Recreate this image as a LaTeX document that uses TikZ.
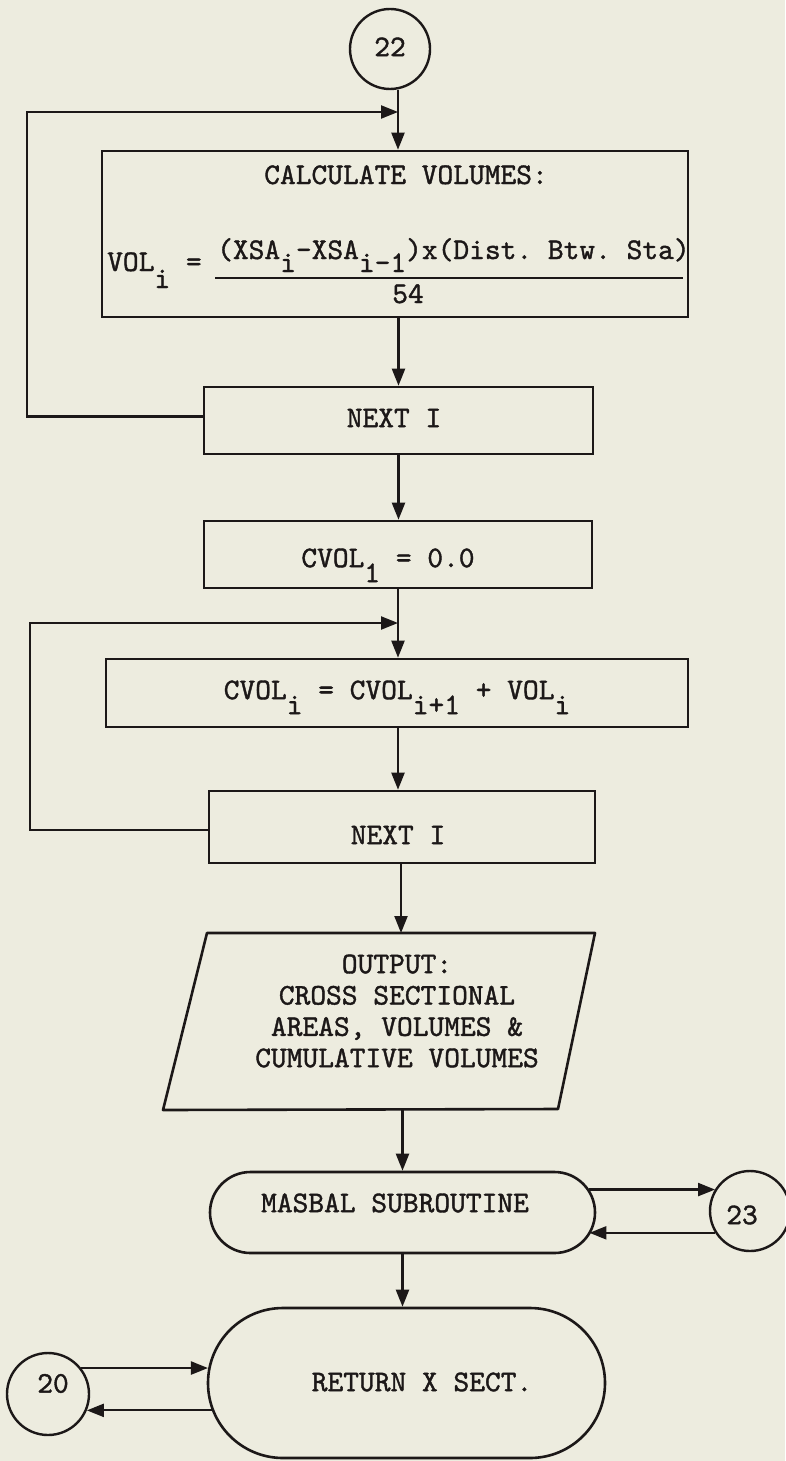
\documentclass[tikz,border=0pt]{standalone}
\usepackage{fontspec}
\usetikzlibrary{arrows.meta,shapes.misc}
\definecolor{paper}{RGB}{237,236,223}
\definecolor{ink}{RGB}{28,24,24}
% typewriter face, slightly emboldened like a ribbon impression
\newfontfamily\typer{lmmono10-regular.otf}[FakeBold=1.3]
% typewriter-style subscript: same size, dropped below the baseline
\newcommand\lowr[2]{\raisebox{-#1}{#2}}
\begin{document}
\begin{tikzpicture}[x=1pt,y=-1pt,
  lbl/.style={font=\typer\fontsize{30pt}{31.3pt}\selectfont\frenchspacing,
              text=ink, inner sep=0pt},
  box/.style={lbl, draw=ink, line width=2.6pt, rectangle},
  pill/.style={lbl, draw=ink, line width=2.6pt, rounded rectangle},
  conn/.style={lbl, circle, draw=ink, line width=2.4pt},
  link/.style={draw=ink, line width=2.2pt, -{Triangle[length=17pt,width=13pt]}},
  rule/.style={draw=ink, line width=2.2pt}]

% page
\fill[paper] (0,0) rectangle (785,1461);
\useasboundingbox (0,0) rectangle (785,1461);

% ---- nodes ----
\node[conn, minimum size=80pt, text height=14.3pt, text depth=0pt] (c22) at (390,49) {22};

\node[box, minimum width=586pt, minimum height=166pt] (calc) at (395,234) {};
\node[lbl, anchor=base] (calctitle) at (406,184) {CALCULATE VOLUMES:};
\node[lbl, anchor=base west] (volL) at (107,271) {VOL\lowr{17pt}{i} =};
\node[lbl, anchor=base west] (numer) at (217,259)
  {(XSA\lowr{13pt}{i}-XSA\lowr{13pt}{i-1})x(Dist. Btw. Sta)};
\node[lbl, anchor=base] (denom) at (408,303) {54};
\draw[rule] (215,278) -- (683,278);

\node[box, minimum width=389pt, minimum height=67pt, text height=13.3pt, text depth=0pt]
  (next1) at (398.5,420.5) {NEXT I\hspace*{9pt}};
\node[box, minimum width=388pt, minimum height=67pt, text height=25.3pt, text depth=0pt]
  (cvol1) at (398,554.5) {CVOL\lowr{15pt}{1} = 0.0\hspace*{20pt}};
\node[box, minimum width=582pt, minimum height=68pt, text height=12.3pt, text depth=0pt]
  (cvoli) at (397,693) {CVOL\lowr{15pt}{i} = CVOL\lowr{15pt}{i+1} + VOL\lowr{15pt}{i}};
\node[box, minimum width=386pt, minimum height=72pt, text height=34.3pt, text depth=0pt]
  (next2) at (402,827) {NEXT I\hspace*{8pt}};

% output parallelogram
\draw[draw=ink, line width=2.6pt, line join=round]
  (207,933) -- (595,933) -- (558,1109) -- (163,1110) -- cycle;
\node[lbl, align=center] (out) at (397,1011)
  {OUTPUT:\\CROSS SECTIONAL\\AREAS, VOLUMES \&\\CUMULATIVE VOLUMES};
\coordinate (outN) at (401,933);
\coordinate (outS) at (402.5,1110);

\node[pill, minimum width=385pt, minimum height=81pt, text height=0pt, text depth=0.7pt]
  (masbal) at (402.5,1212.5) {MASBAL SUBROUTINE\hspace*{15pt}};
\node[conn, minimum size=80pt, text height=26.3pt, text depth=0pt]
  (c23) at (750,1211) {23\hspace*{16pt}};

\node[pill, minimum width=397pt, minimum height=150pt, text height=16.3pt, text depth=0pt]
  (ret) at (406.5,1383) {\hspace*{31pt}RETURN X SECT.};
\node[conn, minimum size=82pt, text height=0pt, text depth=2.7pt]
  (c20) at (48,1394) {\hspace*{10pt}20};

% ---- loop junctions ----
\coordinate (j1) at (398,112);
\coordinate (l1) at (27,112);
\coordinate (j2) at (398,623);
\coordinate (l2) at (30,623);

% ---- connectors ----
\draw[link] (c22.south -| j1) -- (j1 |- calc.north);
\draw[link] ([yshift=4pt]next1.west) -| (l1) -- (j1);
\draw[link] (calc.south -| next1.north) -- (next1.north);
\draw[link] (next1.south) -- (next1.south |- cvol1.north);
\draw[link] (cvol1.south) -- (cvol1.south |- cvoli.north);
\draw[link] ([yshift=-3pt]next2.west) -| (l2) -- (j2);
\draw[link] (cvoli.south -| j2) -- (j2 |- next2.north);
\draw[link] (next2.south -| outN) -- (outN);
\draw[link] (outS) -- (outS |- masbal.north);
\draw[link] (masbal.south) -- (masbal.south |- ret.north);
\draw[link] (masbal.7) -- (c23.148 |- masbal.7);
\draw[link] (c23.212) -- (masbal.353 |- c23.212);
\draw[link] (c20.38) -- (ret.176 |- c20.38);
\draw[link] (ret.188) -- (c20.337 |- ret.188);
\end{tikzpicture}
\end{document}
